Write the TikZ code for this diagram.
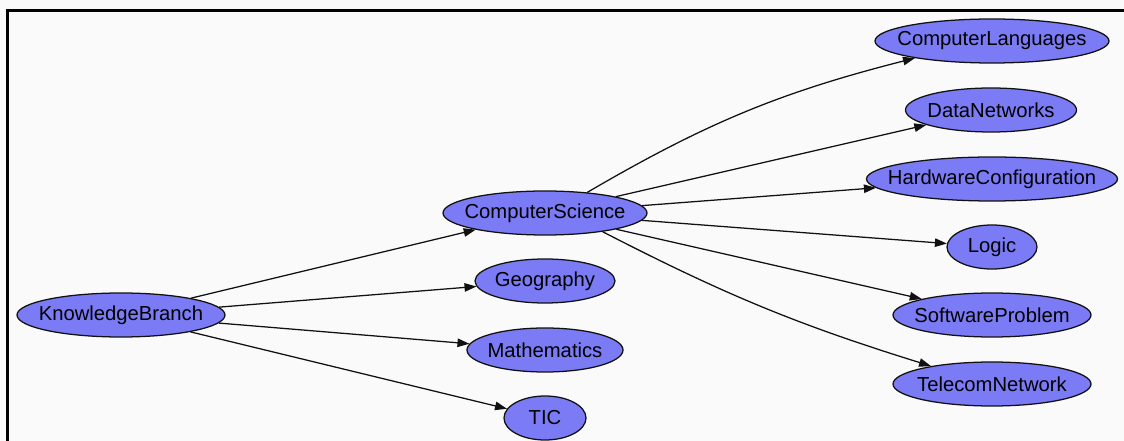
\documentclass[tikz,border=0pt]{standalone}
\usepackage{fontspec}
\setmainfont{Liberation Sans}
\usepackage{tikz}
\usepackage{xcolor}
\usetikzlibrary{shapes.geometric,arrows.meta}
\definecolor{vdark}{HTML}{111111}
\definecolor{vperi}{HTML}{7B7BF5}
\definecolor{vpaper}{HTML}{FAFAFA}

\begin{document}
\begin{tikzpicture}[
		font = \fontsize{14.4}{17}\selectfont,
		branch/.style = {ellipse, draw = vdark, fill = vperi, line width = 0.9pt, minimum height = 1.1cm, inner sep = 0pt},
		link/.style = {draw = vdark, line width = 0.9pt, -{Triangle[length = 8.5pt, width = 6pt]}}
	]
		\fill[vpaper] (0,0) rectangle (28.1,11.025);
		\useasboundingbox (0,0) rectangle (28.1,11.025);
		\draw[draw = black, line width = 1.8pt] (0.1875,0) -- (0.1875,10.7625) -- (28.1,10.7625);
		% root and second level
		\node[branch, minimum width = 5.2cm, label = center:KnowledgeBranch] (kb) at (3.025,3.15) {};
		\node[branch, minimum width = 5.1cm, label = center:ComputerScience] (cs) at (13.625,5.7) {};
		\node[branch, minimum width = 3.5cm, label = center:Geography] (geo) at (13.625,4.0) {};
		\node[branch, minimum width = 3.9cm, label = center:Mathematics] (math) at (13.625,2.275) {};
		\node[branch, minimum width = 2.05cm, label = center:TIC] (tic) at (13.625,0.575) {};
		% third level
		\node[branch, minimum width = 5.85cm, label = center:ComputerLanguages] (lang) at (24.8,10.0) {};
		\node[branch, minimum width = 4.275cm, label = center:DataNetworks] (data) at (24.775,8.275) {};
		\node[branch, minimum width = 6.275cm, label = center:HardwareConfiguration] (hard) at (24.8,6.55) {};
		\node[branch, minimum width = 2.25cm, label = center:Logic] (logic) at (24.8,4.85) {};
		\node[branch, minimum width = 4.95cm, label = center:SoftwareProblem] (soft) at (24.8,3.15) {};
		\node[branch, minimum width = 4.95cm, label = center:TelecomNetwork] (tele) at (24.8,1.425) {};
		\draw[link] (kb) -- (cs);
		\draw[link] (kb) -- (geo);
		\draw[link] (kb) -- (math);
		\draw[link] (kb) -- (tic);
		\draw[link] (cs.26) to[bend left = 8] (lang);
		\draw[link] (cs) -- (data);
		\draw[link] (cs) -- (hard);
		\draw[link] (cs) -- (logic);
		\draw[link] (cs) -- (soft);
		\draw[link] (cs.-18) to[bend right = 5] (tele);
	\end{tikzpicture}
\end{document}
